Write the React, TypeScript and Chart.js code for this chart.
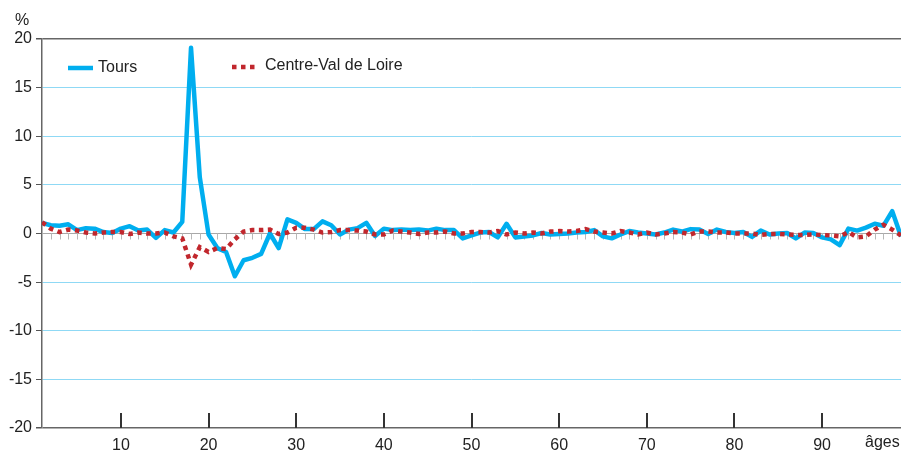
import React, { useEffect, useRef } from "react";
import { Chart, registerables } from "chart.js";

Chart.register(...registerables);

const ages = [
  1, 2, 3, 4, 5, 6, 7, 8, 9, 10, 11, 12, 13, 14, 15, 16, 17, 18, 19, 20,
  21, 22, 23, 24, 25, 26, 27, 28, 29, 30, 31, 32, 33, 34, 35, 36, 37, 38, 39, 40,
  41, 42, 43, 44, 45, 46, 47, 48, 49, 50, 51, 52, 53, 54, 55, 56, 57, 58, 59, 60,
  61, 62, 63, 64, 65, 66, 67, 68, 69, 70, 71, 72, 73, 74, 75, 76, 77, 78, 79, 80,
  81, 82, 83, 84, 85, 86, 87, 88, 89, 90, 91, 92, 93, 94, 95, 96, 97, 98, 99,
];

const tours = [
  1.1, 0.85, 0.8, 0.95, 0.35, 0.55, 0.5, 0.15, 0.05, 0.5,
  0.75, 0.3, 0.4, -0.45, 0.35, 0.1, 1.2, 19.1, 5.8, -0.1,
  -1.5, -1.9, -4.4, -2.75, -2.5, -2.1, 0.0, -1.5, 1.45, 1.1,
  0.45, 0.45, 1.25, 0.85, -0.1, 0.4, 0.55, 1.1, -0.25, 0.5,
  0.35, 0.4, 0.35, 0.4, 0.3, 0.5, 0.35, 0.35, -0.5, -0.2,
  0.1, 0.15, -0.4, 1.0, -0.4, -0.3, -0.2, 0.05, -0.1, -0.05,
  0.0, 0.1, 0.15, 0.35, -0.3, -0.5, -0.1, 0.25, 0.1, 0.0,
  -0.1, 0.1, 0.4, 0.2, 0.45, 0.4, -0.05, 0.4, 0.15, 0.05,
  0.15, -0.35, 0.3, -0.1, 0.0, 0.05, -0.5, 0.1, 0.05, -0.4,
  -0.6, -1.2, 0.5, 0.3, 0.6, 1.0, 0.8, 2.3, -0.3,
];

const centre = [
  1.15, 0.5, 0.15, 0.4, 0.3, 0.1, 0.0, 0.1, 0.15, 0.15,
  -0.05, 0.1, 0.0, 0.0, 0.1, -0.3, -0.5, -3.2, -1.4, -1.9,
  -1.5, -1.6, -0.6, 0.2, 0.35, 0.35, 0.4, -0.05, 0.1, 0.6,
  0.6, 0.4, 0.1, 0.15, 0.35, 0.35, 0.3, 0.2, -0.1, -0.1,
  0.3, 0.2, 0.1, -0.05, 0.1, 0.1, 0.2, 0.0, 0.0, 0.15,
  0.15, 0.1, 0.25, -0.1, 0.1, 0.0, 0.1, 0.0, 0.2, 0.25,
  0.2, 0.25, 0.45, 0.2, 0.1, 0.0, 0.25, 0.1, -0.1, 0.1,
  -0.1, 0.0, 0.15, 0.1, -0.1, 0.2, 0.2, 0.1, 0.1, 0.0,
  0.0, 0.0, -0.15, -0.05, -0.05, -0.1, -0.15, -0.15, -0.1, -0.15,
  -0.2, -0.3, 0.15, -0.4, -0.3, 0.4, 0.9, 0.4, -0.2,
];

const xTicks = [10, 20, 30, 40, 50, 60, 70, 80, 90];
const yTicks = [-20, -15, -10, -5, 0, 5, 10, 15, 20];

const TOURS_COLOR = "#00aeef";
const CENTRE_COLOR = "#c1272d";
const FONT = "'Liberation Sans', Arial, sans-serif";

const decorPlugin = {
  id: "decor",
  beforeDatasetsDraw(chart: any) {
    const { ctx, chartArea } = chart;
    const xs = chart.scales.x;
    const ys = chart.scales.y;
    const y0 = ys.getPixelForValue(0);
    ctx.save();
    ctx.strokeStyle = "#b8b8b8";
    ctx.lineWidth = 1;
    ages.forEach((a) => {
      const x = Math.round(xs.getPixelForValue(a)) + 0.5;
      ctx.beginPath();
      ctx.moveTo(x, y0);
      ctx.lineTo(x, y0 + 6);
      ctx.stroke();
    });
    ctx.strokeStyle = "#333";
    ctx.lineWidth = 2;
    xTicks.forEach((a) => {
      const x = Math.round(xs.getPixelForValue(a));
      ctx.beginPath();
      ctx.moveTo(x, chartArea.bottom);
      ctx.lineTo(x, chartArea.bottom - 15);
      ctx.stroke();
    });
    ctx.restore();
  },
  afterDraw(chart: any) {
    const { ctx } = chart;
    ctx.save();
    ctx.font = `16px ${FONT}`;
    ctx.fillStyle = "#222";
    ctx.textBaseline = "middle";
    ctx.textAlign = "left";
    ctx.fillText("%", 15, 21);
    ctx.fillText("âges", 865, 443);
    ctx.strokeStyle = TOURS_COLOR;
    ctx.lineWidth = 4.5;
    ctx.beginPath();
    ctx.moveTo(68, 68);
    ctx.lineTo(93, 68);
    ctx.stroke();
    ctx.fillText("Tours", 98, 68);
    ctx.strokeStyle = CENTRE_COLOR;
    ctx.lineWidth = 4.5;
    ctx.setLineDash([4.5, 4.5]);
    ctx.beginPath();
    ctx.moveTo(232, 67);
    ctx.lineTo(258, 67);
    ctx.stroke();
    ctx.setLineDash([]);
    ctx.fillText("Centre-Val de Loire", 265, 66);
    ctx.restore();
  },
};

export default function App() {
  const ref = useRef<HTMLCanvasElement>(null);
  useEffect(() => {
    document.body.style.margin = "0";
    const canvas = ref.current;
    if (!canvas) return;
    const chart = new Chart(canvas, {
      type: "line",
      data: {
        datasets: [
          {
            label: "Centre-Val de Loire",
            data: ages.map((a, i) => ({ x: a, y: centre[i] })),
            borderColor: CENTRE_COLOR,
            borderWidth: 4.5,
            borderDash: [4.5, 4.5],
            borderCapStyle: "butt",
            pointRadius: 0,
            tension: 0,
          },
          {
            label: "Tours",
            data: ages.map((a, i) => ({ x: a, y: tours[i] })),
            borderColor: TOURS_COLOR,
            borderWidth: 4.5,
            borderJoinStyle: "round",
            pointRadius: 0,
            tension: 0,
          },
        ],
      },
      options: {
        animation: false,
        responsive: false,
        devicePixelRatio: 1,
        layout: { padding: { top: 39, right: 0, left: 0, bottom: 0 } },
        plugins: { legend: { display: false }, tooltip: { enabled: false } },
        scales: {
          x: {
            type: "linear",
            min: 1,
            max: 99,
            afterBuildTicks: (s: any) => {
              s.ticks = xTicks.map((v) => ({ value: v }));
            },
            afterFit: (s: any) => {
              s.height = 24;
            },
            grid: { display: false },
            border: { display: false },
            ticks: {
              padding: 0,
              color: "#222",
              font: { family: FONT, size: 16 },
              maxRotation: 0,
              autoSkip: false,
            },
          },
          y: {
            type: "linear",
            min: -20,
            max: 20,
            afterBuildTicks: (s: any) => {
              s.ticks = yTicks.map((v) => ({ value: v }));
            },
            afterFit: (s: any) => {
              s.width = 42;
            },
            border: { display: true, color: "#666", width: 1.5 },
            grid: {
              drawTicks: true,
              tickLength: 6,
              tickColor: "#555",
              color: (c: any) => {
                const v = c.tick?.value;
                if (v === 0) return "#a8a8a8";
                if (v === 20 || v === -20) return "#666";
                return "#8fd9f5";
              },
              lineWidth: (c: any) => {
                const v = c.tick?.value;
                if (v === 20 || v === -20) return 1.5;
                return 1;
              },
            },
            ticks: {
              padding: 4,
              color: "#222",
              font: { family: FONT, size: 16 },
            },
          },
        },
      },
      plugins: [decorPlugin],
    } as any);
    return () => chart.destroy();
  }, []);
  return (
    <div style={{ width: 901, height: 452 }}>
      <canvas ref={ref} width={901} height={452} style={{ display: "block" }} />
    </div>
  );
}
